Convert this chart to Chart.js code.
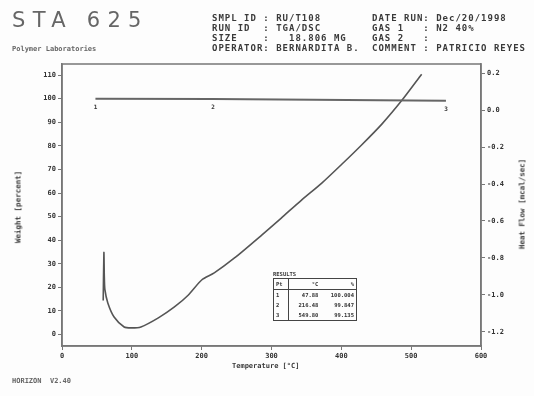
<!DOCTYPE html>
<html>
<head>
<meta charset="utf-8">
<script src="https://cdn.jsdelivr.net/npm/chart.js@4.4.1/dist/chart.umd.min.js"></script>
<style>
  html, body { margin: 0; padding: 0; background: #fdfdfd; }
  #wrap { position: relative; width: 534px; height: 396px; overflow: hidden; }
  canvas { position: absolute; left: 0; top: 0; }
  .t { position: absolute; white-space: pre; color: #3a3a3a; font-family: "DejaVu Sans Mono", monospace; font-weight: bold; }
  .hdr { font-size: 9px; letter-spacing: 1px; line-height: 10px; }
  #sta { left: 12px; top: 8px; font-family: "DejaVu Sans", sans-serif; font-weight: normal; font-size: 21px; letter-spacing: 7.3px; color: #666; }
  #lab { left: 12px; top: 45px; font-size: 7px; color: #666; }
  #foot { left: 12px; top: 377px; font-size: 7px; color: #666; }
  .rot { transform: translate(-50%, -50%) rotate(-90deg); font-size: 7.5px; }
  #results { position: absolute; left: 273px; top: 278px; width: 84px; border: 1.5px solid #444;
    font-family: "DejaVu Sans Mono", monospace; font-size: 5.5px; font-weight: bold; color: #333; border-collapse: collapse; }
  #results td { padding: 0 2px; height: 10px; text-align: right; }
  #results tr.h td { border-bottom: 1px solid #444; }
  #results td:first-child { border-right: 1px solid #444; text-align: left; }
</style>
</head>
<body>
<div id="wrap">
  <canvas id="chart" width="534" height="396"></canvas>
  <div class="t" id="sta">STA 625</div>
  <div class="t" id="lab">Polymer Laboratories</div>
  <div class="t hdr" style="left:212px; top:13px;">SMPL ID : RU/T108
RUN ID  : TGA/DSC
SIZE    :   18.806 MG
OPERATOR: BERNARDITA B.</div>
  <div class="t hdr" style="left:372px; top:13px;">DATE RUN: Dec/20/1998
GAS 1   : N2 40%
GAS 2   :
COMMENT : PATRICIO REYES</div>
  <div class="t rot" style="left:18px; top:207px;">Weight [percent]</div>
  <div class="t rot" style="left:522px; top:204px;">Heat Flow [mcal/sec]</div>
  <div class="t" style="left:232px; top:362px; font-size:7px;">Temperature [°C]</div>
  <div class="t" style="left:273px; top:271px; font-size:5.5px;">RESULTS</div>
  <table id="results"></table>
  <div class="t" id="foot">HORIZON  V2.40</div>
</div>
<script>
// weight (TGA) result points
const resultTemp = [47.88, 216.48, 549.80];
const resultWeight = [100.004, 99.847, 99.135];

// heat flow (DSC) trace
const flowTemp = [59.0, 60.0, 60.6, 61.4, 65.6, 74.6, 89, 99, 113, 138, 161, 181, 200, 218, 247, 286, 314, 343, 372, 401, 429, 458, 487, 515];
const flowValue = [-1.03, -0.77, -0.90, -0.97, -1.043, -1.119, -1.173, -1.178, -1.173, -1.124, -1.065, -1.0, -0.919, -0.881, -0.80, -0.676, -0.584, -0.487, -0.395, -0.292, -0.189, -0.076, 0.054, 0.194];

// tick labels
const tempTicks = [0, 100, 200, 300, 400, 500, 600];
const weightTicks = [0, 10, 20, 30, 40, 50, 60, 70, 80, 90, 100, 110];
const flowTicks = [-1.2, -1.0, -0.8, -0.6, -0.4, -0.2, 0.0, 0.2];

// results table
const table = document.getElementById("results");
table.innerHTML = '<tr class="h"><td>Pt</td><td>°C</td><td>%</td></tr>' +
  resultTemp.map((t, i) =>
    `<tr><td>${i + 1}</td><td>${t.toFixed(2)}</td><td>${resultWeight[i].toFixed(3)}</td></tr>`
  ).join("");

const ink = "#555";
const tickFont = { family: "DejaVu Sans Mono", size: 7, weight: "bold" };

const framePlugin = {
  id: "frame",
  afterDraw(chart) {
    const { ctx, chartArea: a } = chart;
    ctx.save();
    ctx.strokeStyle = "#777";
    ctx.lineWidth = 1.5;
    ctx.strokeRect(a.left, a.top, a.right - a.left, a.bottom - a.top);
    // point numbers under the weight line
    const meta = chart.getDatasetMeta(0);
    ctx.fillStyle = "#333";
    ctx.font = "bold 6px 'DejaVu Sans Mono'";
    ctx.textAlign = "center";
    meta.data.forEach((p, i) => ctx.fillText(String(i + 1), p.x, p.y + 10));
    ctx.restore();
  },
};

new Chart(document.getElementById("chart"), {
  type: "line",
  data: {
    datasets: [
      {
        label: "Weight",
        data: resultTemp.map((x, i) => ({ x, y: resultWeight[i] })),
        yAxisID: "y",
        borderColor: "#666",
        borderWidth: 2,
        pointRadius: 0,
        tension: 0,
      },
      {
        label: "Heat Flow",
        data: flowTemp.map((x, i) => ({ x, y: flowValue[i] })),
        yAxisID: "y2",
        borderColor: ink,
        borderWidth: 1.6,
        pointRadius: 0,
        tension: 0.25,
      },
    ],
  },
  options: {
    responsive: false,
    animation: false,
    layout: { padding: { left: 0, right: 0, top: 64, bottom: 20 } },
    plugins: { legend: { display: false }, tooltip: { enabled: false } },
    scales: {
      x: {
        type: "linear",
        min: 0,
        max: 600,
        afterBuildTicks: (s) => { s.ticks = tempTicks.map((v) => ({ value: v })); },
        afterFit: (s) => { s.height = 30; },
        ticks: { font: tickFont, color: "#333", padding: 2, maxRotation: 0 },
        grid: { drawOnChartArea: false, drawTicks: true, tickLength: 4, color: "#777" },
        border: { color: "#777", width: 1.5 },
      },
      y: {
        position: "left",
        min: -4.85,
        max: 114.7,
        afterBuildTicks: (s) => { s.ticks = weightTicks.map((v) => ({ value: v })); },
        afterFit: (s) => { s.width = 62; },
        ticks: { font: tickFont, color: "#333", padding: 2 },
        grid: { drawOnChartArea: false, drawTicks: true, tickLength: 4, color: "#777" },
        border: { color: "#777", width: 1.5 },
      },
      y2: {
        position: "right",
        min: -1.276,
        max: 0.249,
        afterBuildTicks: (s) => { s.ticks = flowTicks.map((v) => ({ value: v })); },
        afterFit: (s) => { s.width = 53; },
        ticks: { font: tickFont, color: "#333", padding: 2, callback: (v) => Number(v).toFixed(1) },
        grid: { drawOnChartArea: false, drawTicks: true, tickLength: 4, color: "#777" },
        border: { color: "#777", width: 1.5 },
      },
    },
  },
  plugins: [framePlugin],
});
</script>
</body>
</html>
